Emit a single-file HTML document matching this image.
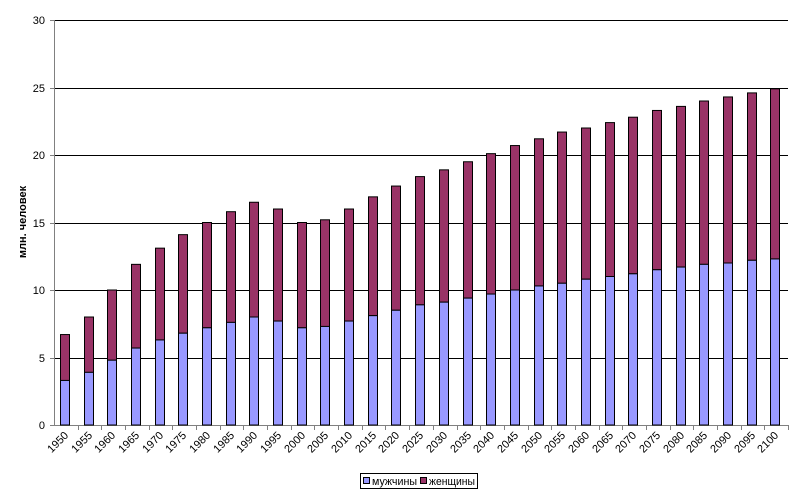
<!DOCTYPE html>
<html><head><meta charset="utf-8"><style>
body{margin:0;background:#fff}
svg{display:block}
text{font-family:"Liberation Sans",Arial,sans-serif;font-size:11px;fill:#000}
</style></head><body>
<svg width="800" height="498" xmlns="http://www.w3.org/2000/svg">
<g stroke="#000" stroke-width="1">
<line x1="54" y1="20.5" x2="788" y2="20.5"/>
<line x1="54" y1="88.5" x2="788" y2="88.5"/>
<line x1="54" y1="155.5" x2="788" y2="155.5"/>
<line x1="54" y1="223.5" x2="788" y2="223.5"/>
<line x1="54" y1="290.5" x2="788" y2="290.5"/>
<line x1="54" y1="358.5" x2="788" y2="358.5"/>
</g>
<g stroke="#808080">
<line x1="54.5" y1="20" x2="54.5" y2="425"/>
<line x1="54" y1="425.5" x2="788" y2="425.5"/>
<line x1="50" y1="20.5" x2="54" y2="20.5"/><line x1="50" y1="88.5" x2="54" y2="88.5"/><line x1="50" y1="155.5" x2="54" y2="155.5"/><line x1="50" y1="223.5" x2="54" y2="223.5"/><line x1="50" y1="290.5" x2="54" y2="290.5"/><line x1="50" y1="358.5" x2="54" y2="358.5"/><line x1="50" y1="425.5" x2="54" y2="425.5"/>
</g>
<g id="ticks" stroke="#808080"></g>
<g text-anchor="end">
<text x="45" y="24">30</text><text x="45" y="92">25</text><text x="45" y="159">20</text><text x="45" y="227">15</text><text x="45" y="294">10</text><text x="45" y="362">5</text><text x="45" y="429">0</text>
</g>
<text transform="translate(26,222) rotate(-90)" text-anchor="middle" style="font-weight:bold;font-size:11px">млн. человек</text>
<g id="bars" stroke="#000" stroke-width="1"></g>
<g id="labels" text-anchor="end"></g>
<rect x="360.5" y="473.5" width="117" height="15" fill="#fff" stroke="#000"/>
<rect x="363.5" y="477.5" width="6" height="6" fill="#9999ff" stroke="#000"/>
<text x="372" y="485" textLength="45" lengthAdjust="spacingAndGlyphs">мужчины</text>
<rect x="420.5" y="477.5" width="6" height="6" fill="#993366" stroke="#000"/>
<text x="429" y="485" textLength="46" lengthAdjust="spacingAndGlyphs">женщины</text>
</svg>
<script>
var T=[6.7,8,10,11.9,13.1,14.1,15,15.8,16.5,16,15,15.2,16,16.9,17.7,18.4,18.9,19.5,20.1,20.7,21.2,21.7,22,22.4,22.8,23.3,23.6,24,24.3,24.6,24.9];
var M=[3.3,3.9,4.8,5.7,6.3,6.8,7.2,7.6,8,7.7,7.2,7.3,7.7,8.1,8.5,8.9,9.1,9.4,9.7,10,10.3,10.5,10.8,11,11.2,11.5,11.7,11.9,12,12.2,12.3];
var ns="http://www.w3.org/2000/svg",b=document.getElementById("bars"),l=document.getElementById("labels"),tk=document.getElementById("ticks");
function el(t,a,p){var e=document.createElementNS(ns,t);for(var k in a)e.setAttribute(k,a[k]);p.appendChild(e);return e;}
var step=734/31;
for(var i=0;i<31;i++){
 var x=Math.round(60+i*step)+0.5;
 var yt=425-13.5*T[i],ym=425-13.5*M[i];
 el("rect",{x:x,y:yt,width:9,height:ym-yt,fill:"#993366"},b);
 el("rect",{x:x,y:ym,width:9,height:425-ym,fill:"#9999ff"},b);
 var tx=Math.round(54+(i+1)*step)+0.5;
 el("line",{x1:tx,y1:425,x2:tx,y2:430},tk);
 var cx=x+4.5;
 var t=el("text",{transform:"translate("+(cx+4)+",436) rotate(-45)"},l);t.textContent=1950+5*i;
}
</script>
</body></html>
